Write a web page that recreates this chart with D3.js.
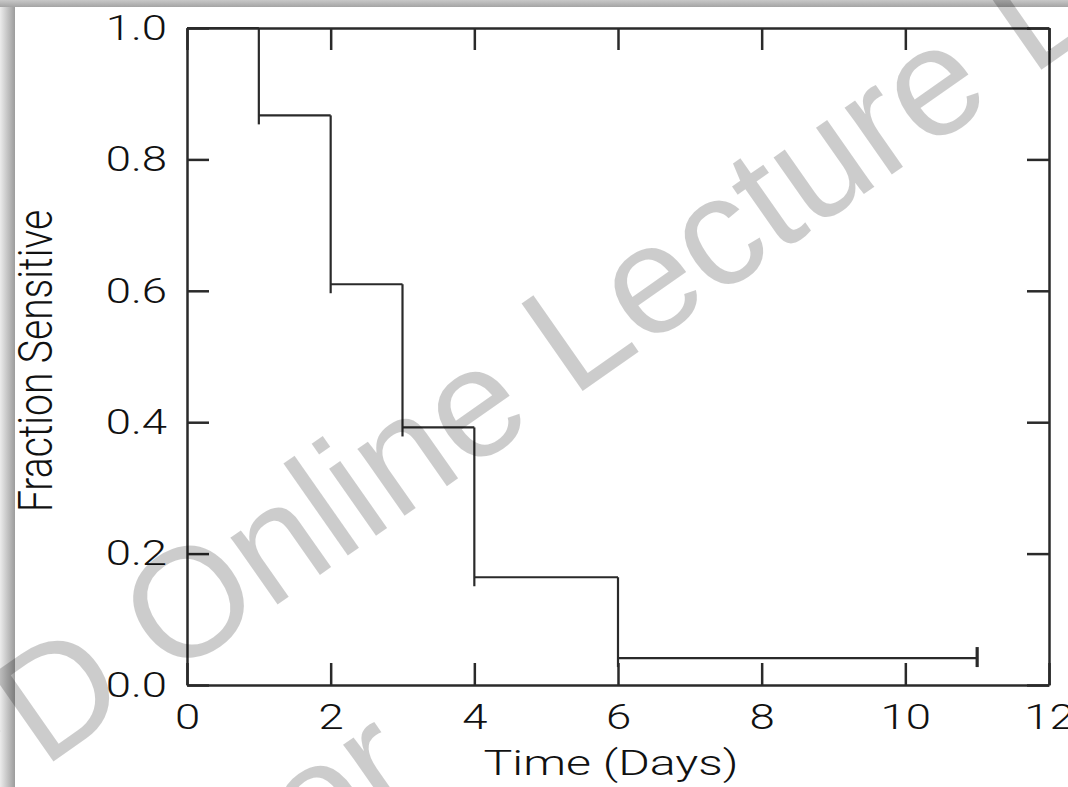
<!DOCTYPE html>
<html>
<head>
<meta charset="utf-8">
<script src="https://cdn.jsdelivr.net/npm/d3@7"></script>
<style>
  html, body { margin: 0; padding: 0; background: #fff; overflow: hidden; }
</style>
</head>
<body>
<div id="chart"></div>
<script>
/* Kaplan-Meier style step plot: fraction sensitive over time */

const X_TICKS = [0, 2, 4, 6, 8, 10, 12];
const Y_TICKS = [0, 0.2, 0.4, 0.6, 0.8, 1.0];

// event times (days) and the fraction still sensitive after each event
const EVENT_TIMES = [0, 1, 2, 3, 4, 6];
const FRACTION    = [1.0, 0.867, 0.610, 0.392, 0.164, 0.041];
const CENSOR_TIME = 11;

const X_LABEL = 'Time (Days)';
const Y_LABEL = 'Fraction Sensitive';

(function () {
  'use strict';

  const W = 1068, H = 787;
  const FONT = "Roboto, 'Liberation Sans', Arial, sans-serif";
  const WM_FONT = "'Liberation Sans', Arial, sans-serif";
  const INK = '#2a2a2a';
  const TICK = 22;

  const svg = d3.select('#chart')
    .append('svg')
    .attr('width', W)
    .attr('height', H);

  // page + drop shadow of the pasted picture
  const defs = svg.append('defs');
  const shadeLeft = defs.append('linearGradient')
    .attr('id', 'shadeLeft').attr('x1', 0).attr('x2', 1).attr('y1', 0).attr('y2', 0);
  shadeLeft.append('stop').attr('offset', '0%').attr('stop-color', '#ececec');
  shadeLeft.append('stop').attr('offset', '100%').attr('stop-color', '#9c9c9c');
  const shadeTop = defs.append('linearGradient')
    .attr('id', 'shadeTop').attr('x1', 0).attr('x2', 0).attr('y1', 0).attr('y2', 1);
  shadeTop.append('stop').attr('offset', '0%').attr('stop-color', '#c8c8c8');
  shadeTop.append('stop').attr('offset', '100%').attr('stop-color', '#a4a4a4');

  svg.append('rect').attr('width', W).attr('height', H).attr('fill', '#fff');
  svg.append('rect').attr('x', 0).attr('y', 0).attr('width', 15).attr('height', H)
    .attr('fill', 'url(#shadeLeft)');
  svg.append('rect').attr('x', 0).attr('y', 0).attr('width', W).attr('height', 7)
    .attr('fill', 'url(#shadeTop)');

  const x = d3.scaleLinear().domain([0, 12]).range([187, 1049]);
  const y = d3.scaleLinear().domain([0, 1]).range([685, 28]);

  function styleAxis(g) {
    g.select('.domain').attr('stroke', INK).attr('stroke-width', 2.5);
    g.selectAll('.tick line').attr('stroke', INK).attr('stroke-width', 2.5);
    g.selectAll('.tick text')
      .attr('font-family', FONT)
      .attr('font-weight', 300)
      .attr('font-size', 35)
      .attr('fill', '#111');
  }

  // bottom + left axes with labels, ticks pointing inwards
  const gx = svg.append('g')
    .attr('transform', `translate(0,${y(0)})`)
    .call(d3.axisBottom(x)
      .tickValues(X_TICKS)
      .tickFormat(d3.format('d'))
      .tickSizeInner(-TICK)
      .tickSizeOuter(0)
      .tickPadding(19));
  styleAxis(gx);
  gx.selectAll('.tick text').attr('transform', 'scale(1.3,1)');

  const gy = svg.append('g')
    .attr('transform', `translate(${x(0)},0)`)
    .call(d3.axisLeft(y)
      .tickValues(Y_TICKS)
      .tickFormat(d3.format('.1f'))
      .tickSizeInner(-TICK)
      .tickSizeOuter(0)
      .tickPadding(20));
  styleAxis(gy);
  gy.selectAll('.tick text')
    .attr('x', 0)
    .attr('transform', 'translate(-20,0) scale(1.3,1)');

  // mirrored top + right axes, ticks only
  const gt = svg.append('g')
    .attr('transform', `translate(0,${y(1)})`)
    .call(d3.axisTop(x).tickValues(X_TICKS).tickFormat('').tickSizeInner(-TICK).tickSizeOuter(0));
  styleAxis(gt);

  const gr = svg.append('g')
    .attr('transform', `translate(${x(12)},0)`)
    .call(d3.axisRight(y).tickValues(Y_TICKS).tickFormat('').tickSizeInner(-TICK).tickSizeOuter(0));
  styleAxis(gr);

  // axis titles
  svg.append('text')
    .attr('transform', 'translate(611,775) scale(1.38,1)')
    .attr('text-anchor', 'middle')
    .attr('font-family', FONT)
    .attr('font-weight', 300)
    .attr('font-size', 35)
    .attr('fill', '#111')
    .text(X_LABEL);

  svg.append('text')
    .attr('transform', 'translate(52,361) scale(1.22,1) rotate(-90)')
    .attr('text-anchor', 'middle')
    .attr('font-family', FONT)
    .attr('font-weight', 300)
    .attr('font-size', 39)
    .attr('fill', '#111')
    .text(Y_LABEL);

  // survival steps: horizontal runs, then drops that overshoot a little
  const DROP = 9;
  const steps = svg.append('g')
    .attr('stroke', INK)
    .attr('stroke-width', 2.2)
    .attr('fill', 'none');

  const runs = EVENT_TIMES.map((t, i) => ({
    x0: t,
    x1: i < EVENT_TIMES.length - 1 ? EVENT_TIMES[i + 1] : CENSOR_TIME,
    v: FRACTION[i]
  }));

  steps.selectAll('line.run')
    .data(runs)
    .join('line')
    .attr('class', 'run')
    .attr('x1', d => x(d.x0))
    .attr('x2', d => x(d.x1))
    .attr('y1', d => y(d.v))
    .attr('y2', d => y(d.v));

  steps.selectAll('line.drop')
    .data(EVENT_TIMES.slice(1).map((t, i) => ({ t, from: FRACTION[i], to: FRACTION[i + 1] })))
    .join('line')
    .attr('class', 'drop')
    .attr('x1', d => x(d.t))
    .attr('x2', d => x(d.t))
    .attr('y1', d => y(d.from))
    .attr('y2', d => y(d.to) + DROP);

  // censored observation mark
  steps.append('line')
    .attr('x1', x(CENSOR_TIME))
    .attr('x2', x(CENSOR_TIME))
    .attr('y1', y(FRACTION[FRACTION.length - 1]) - 11)
    .attr('y2', y(FRACTION[FRACTION.length - 1]) + 9)
    .attr('stroke-width', 3.2);

  // watermark laid over the picture
  const wm = svg.append('g')
    .attr('transform', 'translate(170,680) rotate(-35)')
    .attr('font-family', WM_FONT)
    .attr('font-size', 155)
    .attr('fill', '#000')
    .attr('fill-opacity', 0.2);
  wm.append('text').attr('x', 0).attr('y', 0).text('Online Lecture Library');
  wm.append('text').attr('x', -43).attr('y', 0).attr('text-anchor', 'end').text('CPD');
  wm.append('text').attr('x', 8).attr('y', 234).text('or');
})();
</script>
</body>
</html>
